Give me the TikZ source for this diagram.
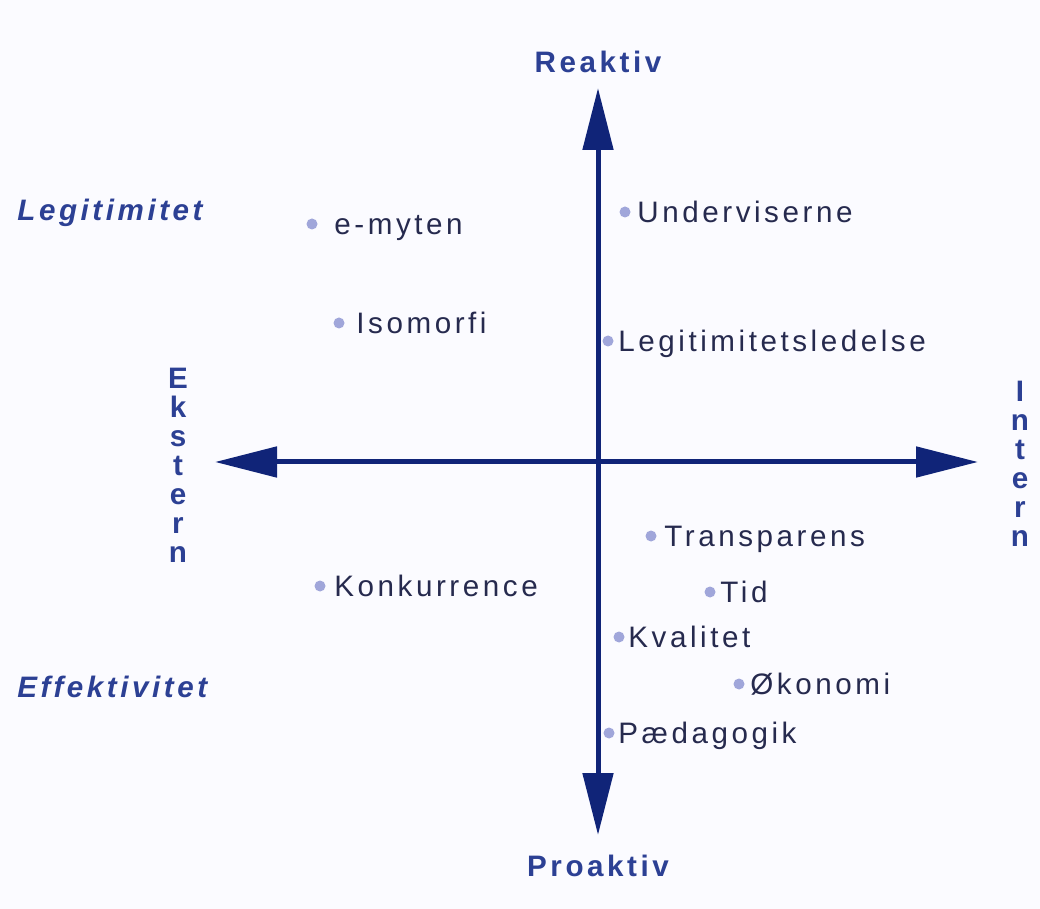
\documentclass[tikz,border=0pt]{standalone}
\usepackage{fontspec}
\setmainfont{Liberation Sans}[LetterSpace=12]
\usetikzlibrary{arrows.meta}
\definecolor{axisblue}{RGB}{16,36,120}
\definecolor{labblue}{RGB}{44,64,148}
\definecolor{itemgray}{RGB}{38,42,78}
\definecolor{dotblue}{RGB}{160,166,218}
\definecolor{bgpaper}{RGB}{251,251,255}

\begin{document}
\begin{tikzpicture}[x=0.5pt,y=-0.5pt,>={Triangle[length=31pt,width=15pt]},
  axis/.style={draw=axisblue,line width=2.5pt},
  axlab/.style={text=labblue,inner sep=0pt,font=\bfseries\fontsize{14.8}{14.5}\selectfont},
  corner/.style={text=labblue,anchor=west,inner sep=0pt,text height=10.6pt,text depth=0pt,
    font=\bfseries\itshape\fontsize{14.8}{17}\selectfont},
  pt/.style={circle,fill=dotblue,minimum size=5.5pt,inner sep=0pt},
  item/.style={text=itemgray,anchor=west,inner sep=0pt,text height=10.6pt,text depth=0pt,
    font=\fontsize{14.8}{17}\selectfont}]
  \fill[bgpaper] (0,0) rectangle (1040,909);
  \useasboundingbox (0,0) rectangle (1040,909);
  % --- axes ---
  \coordinate (top) at (598,88);
  \coordinate (bot) at (598,835);
  \coordinate (left) at (215,462);
  \coordinate (right) at (978,462);
  \draw[axis,<->] (top) -- (bot);
  \draw[axis,<->] (left) -- (right);
  % --- axis labels ---
  \node[axlab] (reaktiv) at (598,62) {Reaktiv};
  \node[axlab] (proaktiv) at (598,866) {Proaktiv};
  \node[axlab,align=center] (ekstern) at (178,465) {E\\k\\s\\t\\e\\r\\n};
  \node[axlab,align=center] (intern) at (1020,464) {I\\n\\t\\e\\r\\n};
  \node[corner] (legit) at (17,210) {Legitimitet};
  \node[corner] (effekt) at (17,687) {Effektivitet};
  % --- upper half ---
  \node[pt] (emyten) at (312,224) {};
  \node[item] at (334,224) {e-myten};
  \node[pt] (isomorfi) at (339,323) {};
  \node[item] at (356,323) {Isomorfi};
  \node[pt] (undervis) at (625,212) {};
  \node[item] at (637,212) {Underviserne};
  \node[pt] (legled) at (608,341) {};
  \node[item] at (618,341) {Legitimitetsledelse};
  % --- lower half ---
  \node[pt] (konk) at (320,586) {};
  \node[item] at (334,586) {Konkurrence};
  \node[pt] (transp) at (651,536) {};
  \node[item] at (664,536) {Transparens};
  \node[pt] (tid) at (710,592) {};
  \node[item] at (720,592) {Tid};
  \node[pt] (kval) at (619,637) {};
  \node[item] at (628,637) {Kvalitet};
  \node[pt] (okon) at (739,684) {};
  \node[item] at (750,684) {Økonomi};
  \node[pt] (paed) at (609,733) {};
  \node[item] at (618,733) {Pædagogik};
\end{tikzpicture}
\end{document}
